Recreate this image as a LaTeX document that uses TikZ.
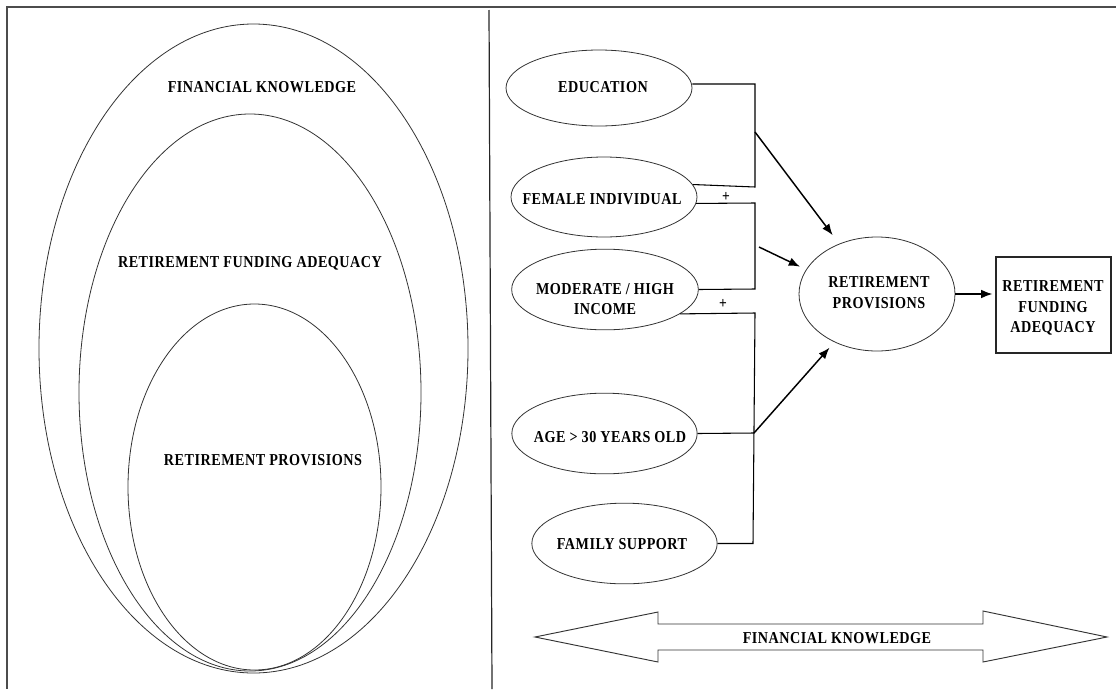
\documentclass[tikz,border=0pt]{standalone}
\usepackage{fontspec}
\newfontfamily\labfont{Liberation Serif}[FakeStretch=0.85,LetterSpace=3]
\usetikzlibrary{shapes.geometric,arrows.meta,calc}
\begin{document}
\begin{tikzpicture}[x=0.75pt,y=-0.75pt,
  lab/.style={font=\labfont\bfseries\fontsize{12.5}{15.5}\selectfont,align=center,inner sep=0pt},
  plus/.style={font=\labfont\bfseries\fontsize{12}{12}\selectfont,inner sep=0pt},
  ell/.style={draw=black!80,line width=0.6pt,ellipse,inner sep=0pt},
  con/.style={draw=black,line width=0.8pt},
  arr/.style={draw=black,line width=1.1pt,-{Latex[length=8.5pt,width=6.5pt]}},
  boxst/.style={draw=black!85,line width=1.3pt,rectangle,inner sep=0pt}]
\useasboundingbox (0,0) rectangle (1116,689);
% frame and divider
\draw[line width=0.8pt,black!70] (1116,7) -- (7,7) -- (7,689);
\draw[line width=0.9pt,black!85] (489,10) -- (492,689);
% left nested ellipses
\node[ell,minimum width=321.75pt,minimum height=486.75pt] (fko) at (253.5,348.5) {};
\node[ell,minimum width=256.5pt,minimum height=417.75pt] (rfa) at (250,392.5) {};
\node[ell,minimum width=189.75pt,minimum height=274.5pt] (rpl) at (254.5,487) {};
\node[lab] (tfk) at (262,87) {FINANCIAL KNOWLEDGE};
\node[lab] (trfa) at (250,263) {RETIREMENT FUNDING ADEQUACY};
\node[lab] (trp) at (263,460) {RETIREMENT PROVISIONS};
% right ellipses
\node[ell,minimum width=139.5pt,minimum height=57pt] (edu) at (599,88) {};
\node[ell,minimum width=139.5pt,minimum height=60pt] (fem) at (604,197) {};
\node[ell,minimum width=140pt,minimum height=60.5pt] (mod) at (605,289.5) {};
\node[ell,minimum width=139pt,minimum height=60.5pt] (age) at (604.5,433.5) {};
\node[ell,minimum width=139pt,minimum height=60.5pt] (fam) at (624.5,543.5) {};
\node[ell,minimum width=117pt,minimum height=85.5pt] (rp) at (877,294) {};
\node[boxst,minimum width=86.25pt,minimum height=72pt] (box) at (1053.5,305) {};
\node[lab] (tedu) at (603,87) {EDUCATION};
\node[lab] (tfem) at (602,199) {FEMALE INDIVIDUAL};
\node[lab] (tmod) at (605,299) {MODERATE / HIGH\\INCOME};
\node[lab] (tage) at (610,437) {AGE > 30 YEARS OLD};
\node[lab] (tfam) at (622,544) {FAMILY SUPPORT};
\node[lab] (trp2) at (879,292.5) {RETIREMENT\\PROVISIONS};
\node[lab] (tbox) at (1053,308) {RETIREMENT\\FUNDING\\ADEQUACY};
\node[plus] (p1) at (726,197) {+};
\node[plus] (p2) at (723,304) {+};
% junctions
\coordinate (j1a) at (755,84);
\coordinate (j1b) at (755,187);
\coordinate (j2a) at (755,203);
\coordinate (j2b) at (755,289);
\coordinate (j3a) at (755,313);
\coordinate (j3m) at (754,433);
\coordinate (j3b) at (753,543.5);
\coordinate (m1) at (755,132);
\coordinate (m2) at (759,247);
% brackets
\draw[con] (edu.east |- j1a) -- (j1a) -- (j1b) -- (fem.8);
\draw[con] (fem.-4) -- (j2a) -- (j2b) -- (mod.east);
\draw[con] (mod.-18) -- (j3a) -- (j3b) -- (fam.east);
\draw[con] (age.east) -- (j3m);
% arrows
\draw[arr,shorten >=8pt] (m1) -- (rp);
\draw[arr,shorten >=5pt] (m2) -- (rp.161);
\draw[arr,shorten >=5.5pt] (j3m) -- (rp);
\draw[arr,shorten >=2pt] (rp.east) -- (rp.east -| box.west);
% financial knowledge double arrow
\draw[line width=0.7pt,black!80] (535,637) -- (658,612) -- (658,624) -- (983,624) -- (983,611) -- (1107,637) -- (983,662) -- (983,650) -- (658,650) -- (658,662) -- cycle;
\node[lab] (tfk2) at (837,638) {FINANCIAL KNOWLEDGE};
\end{tikzpicture}
\end{document}
